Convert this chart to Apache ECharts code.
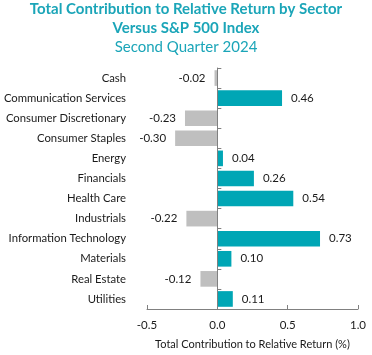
<!DOCTYPE html>
<html><head><meta charset="utf-8">
<script src="https://cdn.jsdelivr.net/npm/echarts@6/dist/echarts.min.js"></script>
<style>html,body{margin:0;padding:0;background:#fff}#c{width:372px;height:355px}</style>
</head><body><div id="c"></div>
<script>
const categories = ["Cash","Communication Services","Consumer Discretionary","Consumer Staples","Energy","Financials","Health Care","Industrials","Information Technology","Materials","Real Estate","Utilities"];
const values = [-0.02,0.46,-0.23,-0.30,0.04,0.26,0.54,-0.22,0.73,0.10,-0.12,0.11];
const xTicks = [-0.5,0,0.5,1.0];
const titleLines = ["Total Contribution to Relative Return by Sector","Versus S&P 500 Index"];
const subtitle = "Second Quarter 2024";
const xAxisName = "Total Contribution to Relative Return (%)";

const FONT = "Lato";
const TEAL = "#00a6b5", GREY = "#bfbfbf", TXT = "#1a1a1a", TITLE = "#1ba5b8", AX = "#808080";
const chart = echarts.init(document.getElementById('c'));
chart.setOption({
  animation:false,
  textStyle:{fontFamily:FONT},
  title:[
    {text:titleLines.join("\n"), left:'center', top:0, padding:0, textStyle:{fontFamily:FONT,fontSize:15,fontWeight:'bold',color:TITLE,lineHeight:19}},
    {text:subtitle, left:'center', top:38, padding:0, textStyle:{fontFamily:FONT,fontSize:15,fontWeight:'normal',color:TITLE,lineHeight:19}}
  ],
  grid:{left:147,right:14,top:68,bottom:45,containLabel:false},
  xAxis:{type:'value',min:-0.5,max:1.0,interval:0.5,
    axisLine:{show:true,lineStyle:{color:AX}},
    axisTick:{show:true,inside:true,length:4,lineStyle:{color:AX}},
    splitLine:{show:false},
    axisLabel:{color:TXT,fontSize:11.5,fontFamily:FONT,margin:10,formatter:v=>xTicks.includes(v)?v.toFixed(1):''},
    name:xAxisName,nameLocation:'middle',nameGap:30,nameTextStyle:{color:TXT,fontSize:11,fontFamily:FONT}},
  yAxis:[
    {type:'category',data:categories,inverse:true,
     axisLine:{show:false,onZero:false},axisTick:{show:false},
     axisLabel:{color:TXT,fontSize:11.3,fontFamily:FONT,margin:21}},
    {type:'category',data:categories,inverse:true,position:'left',z:5,
     axisLine:{show:true,onZero:true,lineStyle:{color:AX,width:1}},
     axisTick:{show:true,inside:true,length:4,lineStyle:{color:AX}},
     axisLabel:{show:false}}
  ],
  series:[{type:'bar',yAxisIndex:0,barCategoryGap:'22%',
    data:values.map(v=>({value:v,itemStyle:{color:v>=0?TEAL:GREY},
      label:{show:true,position:v>=0?'right':'left',distance:9,color:TXT,fontSize:11.5,fontFamily:FONT,formatter:p=>p.value.toFixed(2)}}))
  }]
});
</script></body></html>
